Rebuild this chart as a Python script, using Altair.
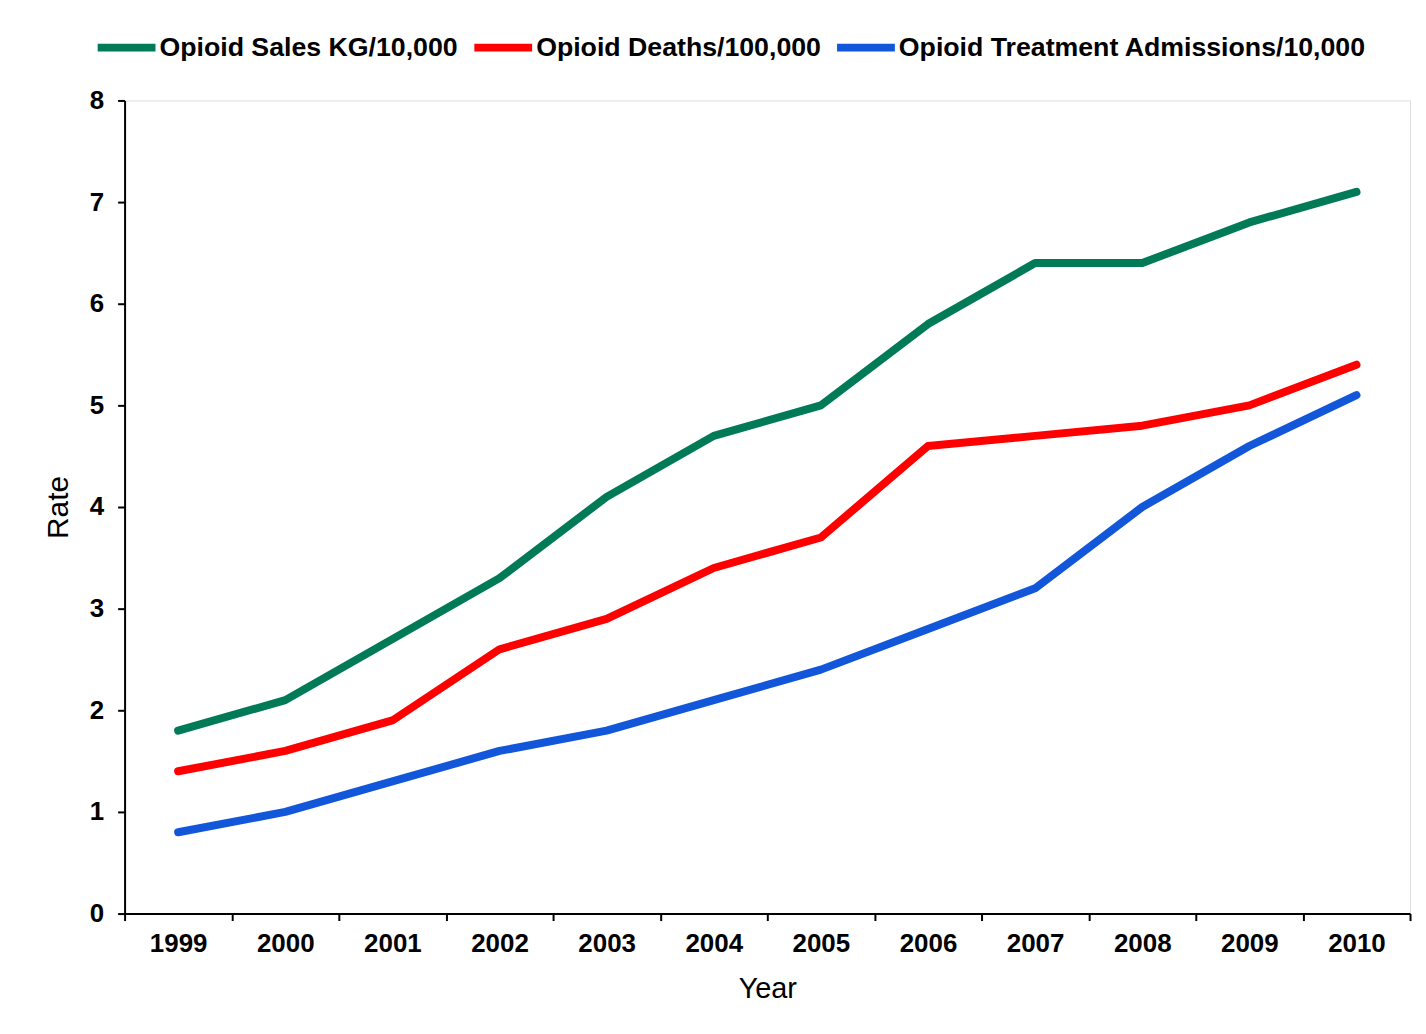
import altair as alt
import pandas as pd

years = ["1999", "2000", "2001", "2002", "2003", "2004", "2005", "2006", "2007", "2008", "2009", "2010"]
series_names = ["Opioid Sales KG/10,000", "Opioid Deaths/100,000", "Opioid Treatment Admissions/10,000"]
sales = [1.8, 2.1, 2.7, 3.3, 4.1, 4.7, 5.0, 5.8, 6.4, 6.4, 6.8, 7.1]
deaths = [1.4, 1.6, 1.9, 2.6, 2.9, 3.4, 3.7, 4.6, 4.7, 4.8, 5.0, 5.4]
admissions = [0.8, 1.0, 1.3, 1.6, 1.8, 2.1, 2.4, 2.8, 3.2, 4.0, 4.6, 5.1]
colors = ["#007A57", "#FF0000", "#1256D9"]
y_ticks = [0, 1, 2, 3, 4, 5, 6, 7, 8]

rows = []
for name, vals in zip(series_names, [sales, deaths, admissions]):
    for yr, v in zip(years, vals):
        rows.append({"Year": yr, "Rate": v, "Series": name})
df = pd.DataFrame(rows)

FONT = "Liberation Sans"

chart = alt.Chart(df).mark_line(
    strokeWidth=8, strokeCap="round", strokeJoin="round"
).encode(
    x=alt.X(
        "Year:O",
        sort=years,
        bandPosition=0.5,
        scale=alt.Scale(type="band", paddingInner=0, paddingOuter=0),
        axis=alt.Axis(
            title="Year", tickBand="extent", labelAngle=0,
            labelFont=FONT, labelFontSize=26, labelFontWeight="bold", labelColor="black",
            labelPadding=10, tickSize=7, tickWidth=2, tickColor="black",
            domainColor="black", domainWidth=2,
            titleFont=FONT, titleFontSize=29, titleFontWeight="normal", titleColor="black",
            titlePadding=18, grid=False,
        ),
    ),
    y=alt.Y(
        "Rate:Q",
        scale=alt.Scale(domain=[0, 8], nice=False),
        axis=alt.Axis(
            title="Rate", values=y_ticks, format="d",
            labelFont=FONT, labelFontSize=26, labelFontWeight="bold", labelColor="black",
            labelPadding=14, tickSize=7, tickWidth=2, tickColor="black",
            domainColor="black", domainWidth=2,
            titleFont=FONT, titleFontSize=30, titleFontWeight="normal", titleColor="black",
            titlePadding=16, grid=False,
        ),
    ),
    color=alt.Color(
        "Series:N",
        sort=series_names,
        scale=alt.Scale(domain=series_names, range=colors),
        legend=alt.Legend(
            title=None, orient="none", direction="horizontal",
            legendX=-31, legendY=-86, padding=0,
            symbolType="stroke", symbolSize=3364, symbolStrokeWidth=8,
            labelFont=FONT, labelFontSize=26.8, labelFontWeight="bold", labelColor="black",
            labelOffset=0, columnPadding=0, labelLimit=800,
        ),
    ),
).properties(
    width=1290, height=816,
    autosize=alt.AutoSizeParams(type="none"),
    padding={"left": 117, "top": 91, "right": 8, "bottom": 95},
).configure_view(stroke=None).configure(background="white")

chart.save("out.html", embed_options={"renderer": "svg", "actions": False})
